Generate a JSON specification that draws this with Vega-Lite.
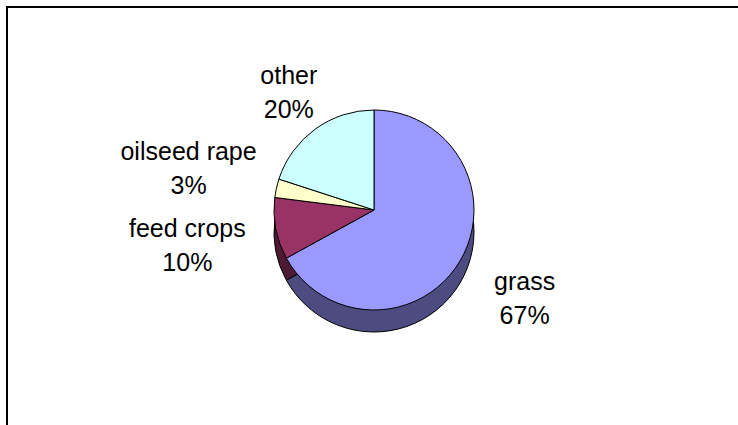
{
  "$schema": "https://vega.github.io/schema/vega-lite/v6.json",
  "width": 734,
  "height": 430,
  "autosize": {"type": "none"},
  "padding": {"left": 7, "top": 7, "right": 0, "bottom": 0},
  "background": "white",
  "view": {"stroke": "black", "strokeWidth": 2, "fill": "white"},
  "config": {"text": {"font": "Liberation Sans", "fontSize": 25, "color": "black"}},
  "data": {"values": [
    {"category": "grass", "share": 67, "pct": "67%"},
    {"category": "feed crops", "share": 10, "pct": "10%"},
    {"category": "oilseed rape", "share": 3, "pct": "3%"},
    {"category": "other", "share": 20, "pct": "20%"}
  ]},
  "transform": [{"window": [{"op": "row_number", "as": "idx"}]}],
  "encoding": {
    "theta": {"field": "share", "type": "quantitative", "stack": true},
    "order": {"field": "idx", "type": "quantitative"}
  },
  "layer": [
    {
      "mark": {"type": "arc", "radius": 100, "yOffset": 10, "stroke": "black", "strokeWidth": 1},
      "encoding": {
        "fill": {"field": "category", "type": "nominal",
          "scale": {"domain": ["grass", "feed crops", "oilseed rape", "other"], "range": ["#4C4C80", "#4D1A33", "#80806A", "#6A8080"]},
          "legend": null}
      }
    },
    {
      "mark": {"type": "arc", "radius": 100, "yOffset": -12, "stroke": "black", "strokeWidth": 1},
      "encoding": {
        "color": {"field": "category", "type": "nominal",
          "scale": {"domain": ["grass", "feed crops", "oilseed rape", "other"], "range": ["#9999FF", "#993366", "#FFFFCC", "#CCFFFF"]},
          "legend": null}
      }
    },
    {
      "mark": {"type": "text", "radius": 190, "dy": -29},
      "encoding": {"text": {"condition": {"test": "datum.category == 'feed crops' || datum.category == 'oilseed rape'", "field": "category"}, "value": ""}}
    },
    {
      "mark": {"type": "text", "radius": 190, "dy": 5},
      "encoding": {"text": {"condition": {"test": "datum.category == 'feed crops' || datum.category == 'oilseed rape'", "field": "pct"}, "value": ""}}
    },
    {
      "mark": {"type": "text", "radius": 175, "dy": -29},
      "encoding": {"text": {"condition": {"test": "datum.category == 'grass'", "field": "category"}, "value": ""}}
    },
    {
      "mark": {"type": "text", "radius": 175, "dy": 5},
      "encoding": {"text": {"condition": {"test": "datum.category == 'grass'", "field": "pct"}, "value": ""}}
    },
    {
      "mark": {"type": "text", "radius": 145, "dy": -29},
      "encoding": {"text": {"condition": {"test": "datum.category == 'other'", "field": "category"}, "value": ""}}
    },
    {
      "mark": {"type": "text", "radius": 145, "dy": 5},
      "encoding": {"text": {"condition": {"test": "datum.category == 'other'", "field": "pct"}, "value": ""}}
    }
  ]
}
